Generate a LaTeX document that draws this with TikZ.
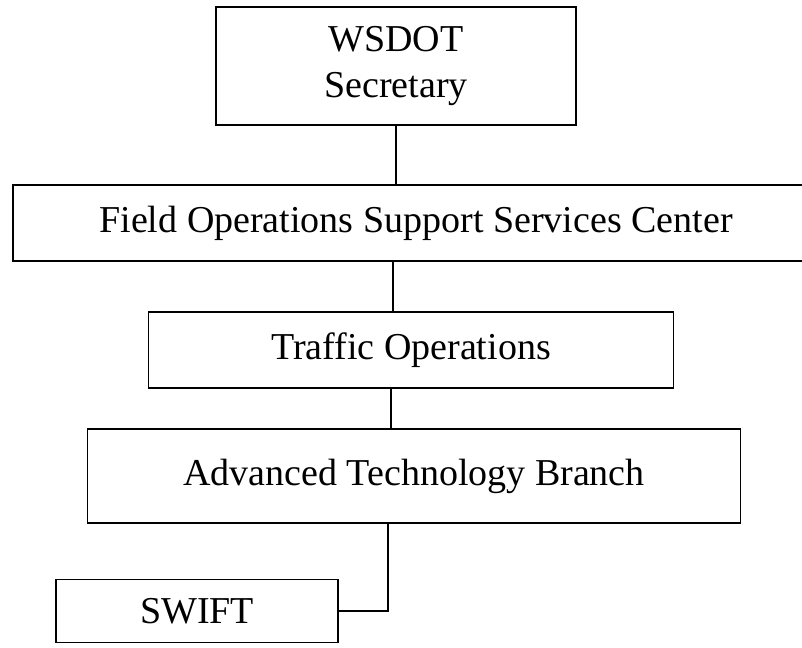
\documentclass[tikz,border=0pt]{standalone}
\usepackage{fontspec}
\setmainfont{Liberation Serif}
\usepackage{tikz}
\usetikzlibrary{calc}

\tikzset{
    orgbox/.style={draw, line width=1.8pt, inner sep=0pt, align=center, font=\fontsize{38}{46}\selectfont},
    link/.style={line width=1.6pt}
}

\begin{document}
\begin{tikzpicture}[x=1pt, y=-1pt]
        \useasboundingbox (0, 0) rectangle (802, 647);
        \clip (0, 0) rectangle (802, 647);

        \coordinate (xW) at (396, 66);
        \coordinate (xF) at (416, 223);
        \coordinate (xT) at (411, 350);
        \coordinate (xA) at (414, 476);
        \coordinate (xS) at (197, 611);

        \coordinate (l2) at (393, 0);
        \coordinate (l3) at (391, 0);
        \coordinate (l4) at (388, 0);

        \node[orgbox, minimum width=360, minimum height=118] (nodeW) at (xW) {\raisebox{-4pt}{WSDOT}\\\raisebox{-4pt}{Secretary}};
        \node[orgbox, minimum width=806, minimum height=76] (nodeF) at (xF) {Field Operations Support Services Center};
        \node[orgbox, minimum width=525, minimum height=76] (nodeT) at (xT) {Traffic Operations};
        \node[orgbox, minimum width=653, minimum height=94] (nodeA) at (xA) {Advanced Technology Branch};
        \node[orgbox, minimum width=282, minimum height=63] (nodeS) at (xS) {SWIFT};

        \draw[link] (nodeW.south) -- (nodeW.south |- nodeF.north);
        \draw[link] (nodeF.south -| l2) -- (nodeT.north -| l2);
        \draw[link] (nodeT.south -| l3) -- (nodeA.north -| l3);
        \draw[link] (nodeA.south -| l4) |- (nodeS.east);
    \end{tikzpicture}
\end{document}
